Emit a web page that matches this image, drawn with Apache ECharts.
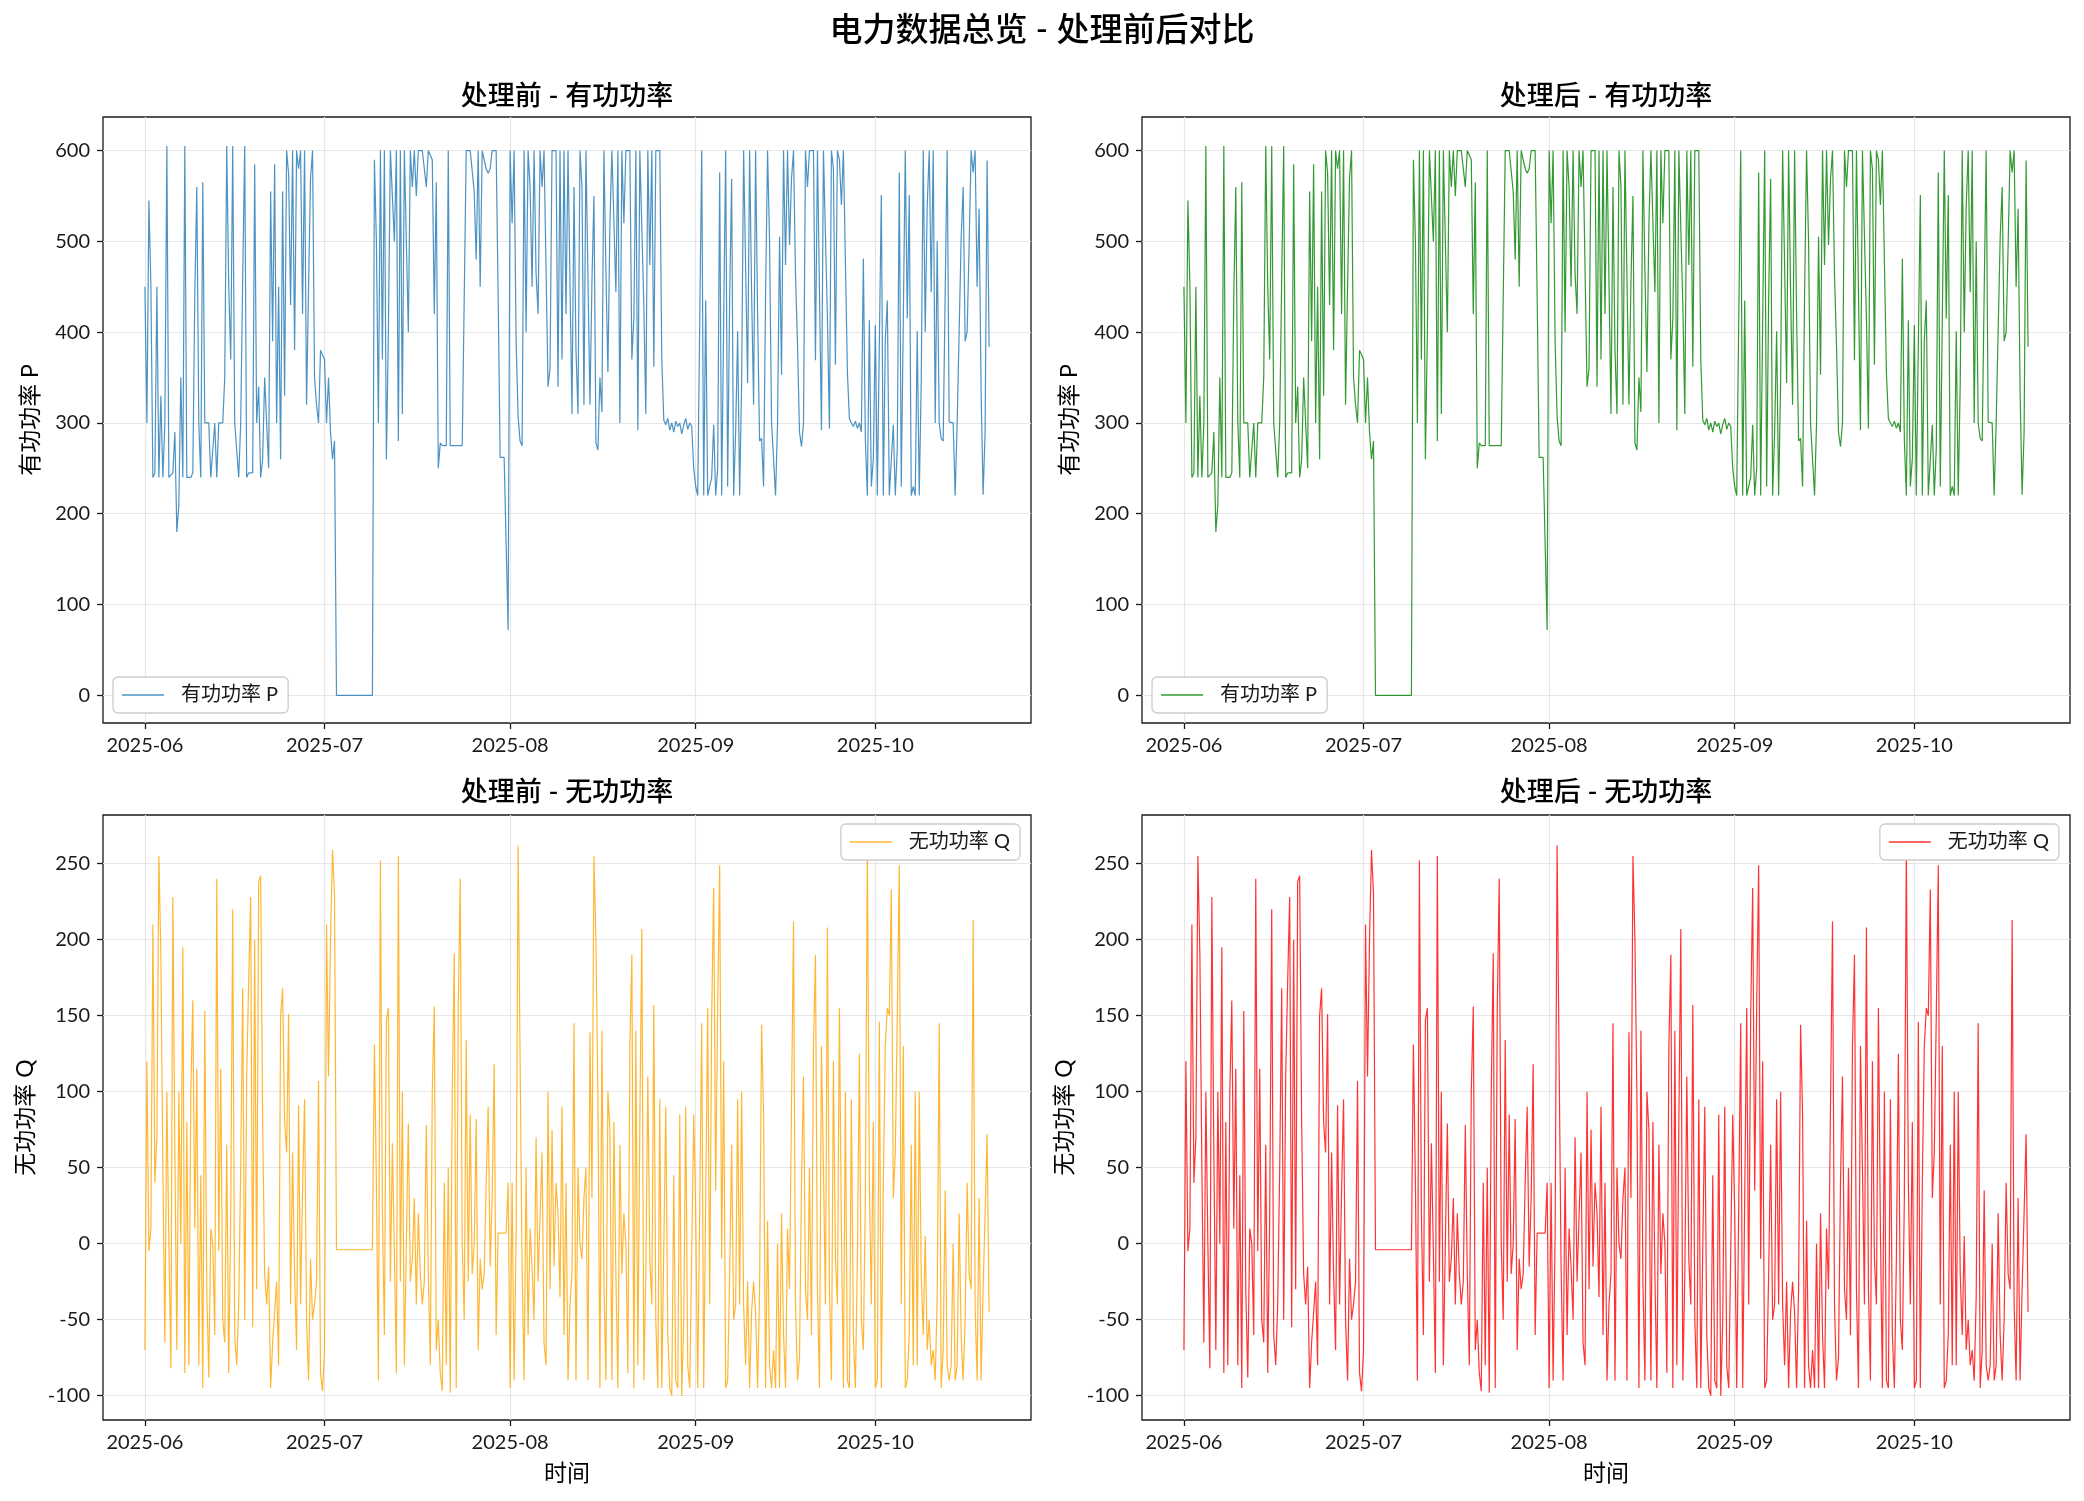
<!DOCTYPE html>
<html>
<head>
<meta charset="utf-8">
<title>电力数据总览 - 处理前后对比</title>
<script src="https://cdn.jsdelivr.net/npm/echarts@6/dist/echarts.min.js"></script>
<style>
  html, body { margin: 0; padding: 0; background: #fff; }
  #chart { width: 2084px; height: 1501px; }
</style>
</head>
<body>
<div id="chart"></div>
<script>
// 采样起点与步长（8 小时一个点）
const START = new Date(2025, 5, 1).getTime();
const STEP = 8 * 3600 * 1000;

// 有功功率 P（按月分段，每天 3 个点）
const pJun = [
  450,300,545,450,240,245,450,240,330,240,
  300,605,240,240,245,290,180,210,350,240,
  605,240,240,240,245,440,560,300,240,565,
  300,300,300,240,240,300,240,300,300,300,
  350,605,450,370,605,300,300,240,300,460,
  605,240,245,245,245,585,300,340,240,260,
  350,300,250,555,390,585,300,450,260,555,
  330,600,575,430,600,380,600,580,600,420,
  600,320,450,570,600,350,320,300,380,380
];
const pJul = [
  370,300,350,290,260,280,
  0,0,0,0,0,0,0,0,0,0,0,0,0,0,0,0,0,0,0,
  590,500,300,600,370,600,260,400,600,600,
  500,600,280,600,310,600,600,400,600,560,
  600,550,600,600,600,600,560,600,
  600,590,420,565,250,278,275,275,275,600,
  275,275,275,275,275,275,275,275,600,600,
  600,600,555,480,600,450,600,600,580,575,
  580,600,600,600,440,262,262,262,262,72
];
const pAug = [
  600,520,600,390,307,280,275,600,400,600,
  560,450,600,465,420,600,560,600,600,340,
  360,600,600,600,340,600,370,600,420,600,
  600,310,560,380,310,600,560,320,600,600,
  320,455,550,278,270,350,312,600,468,356,
  518,600,600,444,600,300,600,520,600,600,
  600,370,415,600,292,600,514,430,310,600,
  474,600,362,600,600,600,370,303,298,305,
  292,300,290,302,296,300,288,298,305,293,
  300,296,250
];
const pSep = [
  230,220,220,600,220,435,220,220,240,298,
  220,250,576,220,411,600,230,437,569,220,
  290,401,220,345,600,600,344,600,444,320,
  600,420,280,283,230,441,600,500,300,300,
  220,300,505,353,600,474,600,496,569,600,
  463,386,290,274,300,600,560,600,600,600,
  369,600,600,292,600,507,415,294,600,580,
  364,600,590,540,600,600,356,305,300,296,
  302,294,300,290,481,281,220,413,230,261
];
const pOct = [
  408,220,220,551,220,391,435,220,220,298,
  220,272,576,230,411,600,415,551,220,230,
  220,401,220,345,600,400,540,600,444,600,
  300,500,300,283,280,444,600,301,300,300,
  220,300,300,503,560,390,400,496,600,576,
  600,450,536,334,221,290,589,384
];

// 无功功率 Q
const qJun = [
  -70,120,-5,10,210,40,70,255,190,50,
  -65,100,0,-82,228,60,-70,100,0,195,
  -85,80,-80,100,160,10,115,-80,45,-95,
  153,-30,-88,10,0,-60,240,-5,115,-50,
  -65,65,-85,20,220,-60,-80,-40,50,168,
  -50,110,173,228,-55,200,-30,238,242,80,
  -20,-40,-15,-95,-65,-45,-25,-80,150,168,
  80,60,151,-40,60,-20,-70,91,-40,35,
  95,-50,-90,-10,-50,-40,-25,107,-85,-97
];
const qJul = [
  -70,210,110,200,259,230,
  -4,-4,-4,-4,-4,-4,-4,-4,-4,-4,-4,-4,-4,-4,-4,-4,-4,-4,-4,
  131,
  40,-90,252,20,-60,147,155,-25,66,-5,
  -85,255,-25,100,-80,0,79,-25,-10,30,
  -40,20,-20,-40,-25,78,-20,-80,100,156,
  -70,-50,-85,-97,40,-80,50,-98,100,191,
  -95,154,240,0,-50,134,-25,85,-20,0,
  82,-70,-10,-30,-20,40,90,-15,30,118,
  -60,
  7,7,7,7,7,
  40
];
const qAug = [
  -95,40,-90,5,262,120,-15,-90,50,-60,
  10,-15,-50,70,-25,-25,60,-65,-80,100,
  -30,75,-15,40,20,-35,90,-60,40,-90,
  -40,-20,145,-90,50,0,
  -10,30,50,-90,139,30,255,200,95,-95,
  140,-25,-90,100,75,-90,80,-20,-95,65,
  -20,20,0,-85,130,190,-95,140,-80,80,
  207,-90,-20,110,-10,-40,157,-50,-95,95,
  -95,-95,90,-60,-95,-100,45,-90,-95,85,
  -100,-50,90,-80,-95,-95,85
];
const qSep = [
  20,-95,-95,145,-95,-95,155,-40,150,234,
  35,157,249,-10,120,-95,-90,-20,65,-50,
  -40,95,-40,100,-40,-80,-25,-95,-45,-25,
  -45,-95,-30,144,85,-95,15,-80,-95,-70,
  -95,0,-95,20,-60,-95,10,-30,-30,212,
  -40,-90,-75,40,110,-30,-50,50,-60,130,
  190,-30,-95,130,50,-40,208,-30,-90,120,
  -10,-40,155,10,-95,100,-90,-95,95,-60,
  -95,-10,125,-50,-70,30,262,40,-40,80
];
const qOct = [
  -95,-90,146,-95,40,130,155,150,233,30,
  60,150,249,-40,130,-95,-90,-60,65,-80,
  100,-80,100,-20,-60,5,-70,-50,-80,-70,
  -90,-35,145,-95,-70,35,-80,-90,-80,0,
  -90,-80,20,-60,-90,-50,40,-20,-30,213,
  -40,-90,30,-90,-30,20,72,-45
];

// 刻度
const monthTicks = [[2025, 5], [2025, 6], [2025, 7], [2025, 8], [2025, 9]];
const pTicks = [0, 100, 200, 300, 400, 500, 600];
const qTicks = [-100, -50, 0, 50, 100, 150, 200, 250];

const FONT = 'Lato, "Noto Sans CJK SC", sans-serif';
const INK = '#1a1a1a';

const pValues = [].concat(pJun, pJul, pAug, pSep, pOct);
const qValues = [].concat(qJun, qJul, qAug, qSep, qOct);
const toPairs = vals => vals.map((v, i) => [START + i * STEP, v]);
const monthValues = monthTicks.map(([y, m]) => new Date(y, m, 1).getTime());
const DAY = 24 * 3600 * 1000;
const xMin = START - 7 * DAY;
const xMax = START + 148 * DAY;

const grids = [
  { left: 103, top: 117, width: 928, height: 606 },
  { left: 1142, top: 117, width: 928, height: 606 },
  { left: 103, top: 815, width: 928, height: 605 },
  { left: 1142, top: 815, width: 928, height: 605 }
];

const panels = [
  { name: '处理前 P', values: pValues, color: '#1f77b4', kind: 'P' },
  { name: '处理后 P', values: pValues, color: '#008000', kind: 'P' },
  { name: '处理前 Q', values: qValues, color: '#ffa500', kind: 'Q' },
  { name: '处理后 Q', values: qValues, color: '#ff0000', kind: 'Q' }
];

const fmtMonth = v => {
  const d = new Date(v);
  return d.getFullYear() + '-' + String(d.getMonth() + 1).padStart(2, '0');
};

const chart = echarts.init(document.getElementById('chart'), null, { renderer: 'canvas' });

const titleStyle = size => ({ fontSize: size, fontWeight: 500, color: '#000', fontFamily: FONT });

const option = {
  animation: false,
  backgroundColor: '#fff',
  title: [
    { text: '电力数据总览 - 处理前后对比', left: 1042, top: 14, textAlign: 'center', padding: 0, textStyle: titleStyle(33) },
    { text: '处理前 - 有功功率', left: 567, top: 83, textAlign: 'center', padding: 0, textStyle: titleStyle(27) },
    { text: '处理后 - 有功功率', left: 1606, top: 83, textAlign: 'center', padding: 0, textStyle: titleStyle(27) },
    { text: '处理前 - 无功功率', left: 567, top: 779, textAlign: 'center', padding: 0, textStyle: titleStyle(27) },
    { text: '处理后 - 无功功率', left: 1606, top: 779, textAlign: 'center', padding: 0, textStyle: titleStyle(27) }
  ],
  grid: grids.map(g => Object.assign({ show: true, borderColor: INK, borderWidth: 1.3, containLabel: false }, g)),
  xAxis: grids.map((g, i) => ({
    type: 'value',
    gridIndex: i,
    min: xMin,
    max: xMax,
    scale: true,
    name: i >= 2 ? '时间' : '',
    nameLocation: 'middle',
    nameGap: 42,
    nameTextStyle: { fontSize: 23, color: '#000', fontFamily: FONT },
    axisLine: { show: false, onZero: false },
    axisTick: { show: true, length: 6, customValues: monthValues, lineStyle: { color: INK, width: 1.3 } },
    axisLabel: { customValues: monthValues, formatter: fmtMonth, fontSize: 20, color: INK, margin: 13, fontFamily: FONT },
    splitLine: { show: true, lineStyle: { color: '#e6e6e6', width: 1.2 } }
  })),
  yAxis: panels.map((p, i) => ({
    type: 'value',
    gridIndex: i,
    min: p.kind === 'P' ? -30.5 : -116,
    max: p.kind === 'P' ? 637 : 282,
    name: p.kind === 'P' ? '有功功率 P' : '无功功率 Q',
    nameLocation: 'middle',
    nameGap: p.kind === 'P' ? 61 : 66,
    nameTextStyle: { fontSize: 23, color: '#000', fontFamily: FONT },
    axisLine: { show: false, onZero: false },
    axisTick: { show: true, length: 6, customValues: p.kind === 'P' ? pTicks : qTicks, lineStyle: { color: INK, width: 1.3 } },
    axisLabel: { customValues: p.kind === 'P' ? pTicks : qTicks, fontSize: 20, color: INK, margin: 13, fontFamily: FONT },
    splitLine: { show: true, lineStyle: { color: '#e6e6e6', width: 1.2 } }
  })),
  legend: panels.map((p, i) => {
    const base = {
      data: [p.name],
      orient: 'horizontal',
      selectedMode: false,
      icon: 'rect',
      itemWidth: 42,
      itemHeight: 1.5,
      itemStyle: { opacity: 0.8 },
      padding: [8, 10, 8, 9],
      backgroundColor: '#fff',
      borderColor: '#cccccc',
      borderWidth: 1.3,
      borderRadius: 5,
      formatter: () => (p.kind === 'P' ? '有功功率 P' : '无功功率 Q'),
      textStyle: { fontSize: 20, color: INK, fontFamily: FONT, padding: [0, 0, 0, 12] }
    };
    if (p.kind === 'P') {
      base.left = grids[i].left + 10;
      base.top = 677;
    } else {
      base.right = 2084 - (grids[i].left + grids[i].width) + 11;
      base.top = 824;
    }
    return base;
  }),
  series: panels.map((p, i) => ({
    type: 'line',
    name: p.name,
    xAxisIndex: i,
    yAxisIndex: i,
    data: toPairs(p.values),
    symbol: 'none',
    showSymbol: false,
    silent: true,
    color: p.color,
    lineStyle: { color: p.color, width: 1.2, opacity: 0.8 },
    z: 3
  }))
};

chart.setOption(option);
</script>
</body>
</html>
